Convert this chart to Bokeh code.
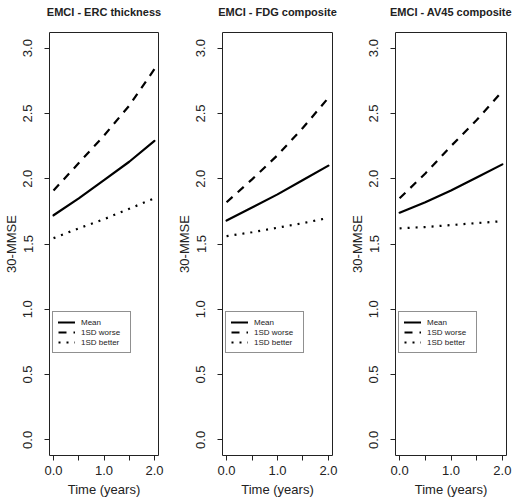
import math
from bokeh.plotting import figure
from bokeh.layouts import row
from bokeh.models import Range1d, FixedTicker, CustomJSTickFormatter, Legend, LegendItem, Title
from bokeh.embed import file_html
from bokeh.resources import INLINE

time = [0.0, 0.5, 1.0, 1.5, 2.0]

titles = ["EMCI - ERC thickness", "EMCI - FDG composite", "EMCI - AV45 composite"]

erc_mean = [1.72, 1.85, 1.99, 2.13, 2.29]
erc_worse = [1.91, 2.12, 2.33, 2.56, 2.84]
erc_better = [1.545, 1.62, 1.69, 1.77, 1.85]

fdg_mean = [1.68, 1.78, 1.88, 1.99, 2.10]
fdg_worse = [1.82, 1.995, 2.18, 2.39, 2.62]
fdg_better = [1.56, 1.59, 1.625, 1.66, 1.70]

av45_mean = [1.74, 1.82, 1.91, 2.01, 2.11]
av45_worse = [1.85, 2.04, 2.25, 2.45, 2.67]
av45_better = [1.62, 1.63, 1.645, 1.66, 1.675]

series_labels = ["Mean", "1SD worse", "1SD better"]
x_ticks = [0.0, 0.5, 1.0, 1.5, 2.0]
y_ticks = [0.0, 0.5, 1.0, 1.5, 2.0, 2.5, 3.0]

panels = [
    (titles[0], erc_mean, erc_worse, erc_better),
    (titles[1], fdg_mean, fdg_worse, fdg_better),
    (titles[2], av45_mean, av45_worse, av45_better),
]

fig_widths = [171, 171, 170]
left_borders = [49, 51, 53]
right_borders = [13, 10, 6]

FONT = "Liberation Sans"
TXT = "#222222"

figs = []
for (title, mean, worse, better), fw, lb, rb in zip(panels, fig_widths, left_borders, right_borders):
    p = figure(width=fw, height=499, output_backend="svg", toolbar_location=None,
               x_range=Range1d(-0.08, 2.08), y_range=Range1d(-0.12, 3.12),
               min_border_left=lb, min_border_right=rb, min_border_top=32, min_border_bottom=42,
               title=title)
    p.title.text_font = FONT
    p.title.text_font_size = "11px"
    p.title.text_font_style = "bold"
    p.title.text_color = TXT
    p.title.align = "center"
    p.title.standoff = 0
    spacer = Title(text=" ", text_font=FONT, text_font_size="11px", standoff=1)
    p.add_layout(spacer, "above")

    p.grid.visible = False
    p.outline_line_color = "#222222"
    p.outline_line_width = 1
    p.background_fill_color = "white"
    p.border_fill_color = "white"

    for ax in (p.xaxis[0], p.yaxis[0]):
        ax.axis_line_color = None
        ax.major_tick_in = 0
        ax.major_tick_out = 5
        ax.major_tick_line_color = "#222222"
        ax.minor_tick_line_color = None
        ax.major_label_text_font = FONT
        ax.major_label_text_font_size = "13px"
        ax.major_label_text_color = TXT
        ax.axis_label_text_font = FONT
        ax.axis_label_text_font_size = "13px"
        ax.axis_label_text_font_style = "normal"
        ax.axis_label_text_color = TXT

    p.xaxis.ticker = FixedTicker(ticks=x_ticks)
    p.xaxis.formatter = CustomJSTickFormatter(code="return (Math.abs(tick % 1) < 1e-9) ? tick.toFixed(1) : '';")
    p.xaxis.major_label_standoff = 5
    p.xaxis.axis_label = "Time (years)"
    p.xaxis.axis_label_standoff = 4

    p.yaxis.ticker = FixedTicker(ticks=y_ticks)
    p.yaxis.formatter = CustomJSTickFormatter(code="return tick.toFixed(1);")
    p.yaxis.major_label_orientation = "vertical"
    p.yaxis.major_label_standoff = 12
    p.yaxis.axis_label = "30-MMSE"
    p.yaxis.axis_label_standoff = 2

    r1 = p.line(time, mean, line_color="black", line_width=2.2, line_cap="round")
    r2 = p.line(time, worse, line_color="black", line_width=2.2, line_dash="8 7")
    r3 = p.line(time, better, line_color="black", line_width=2.2, line_dash="2 6")

    legend = Legend(items=[LegendItem(label=series_labels[0], renderers=[r1]),
                           LegendItem(label=series_labels[1], renderers=[r2]),
                           LegendItem(label=series_labels[2], renderers=[r3])],
                    location=(3, 102))
    legend.label_text_font = FONT
    legend.label_text_font_size = "8px"
    legend.label_text_color = TXT
    legend.label_height = 10
    legend.label_width = 44
    legend.glyph_height = 10
    legend.glyph_width = 17
    legend.label_standoff = 6
    legend.spacing = 0
    legend.padding = 5
    legend.margin = 0
    legend.border_line_color = "#222222"
    legend.border_line_width = 1
    legend.background_fill_color = "white"
    legend.background_fill_alpha = 1
    p.add_layout(legend)
    figs.append(p)

layout = row(*figs)
open("out.html", "w").write(file_html(layout, INLINE))
